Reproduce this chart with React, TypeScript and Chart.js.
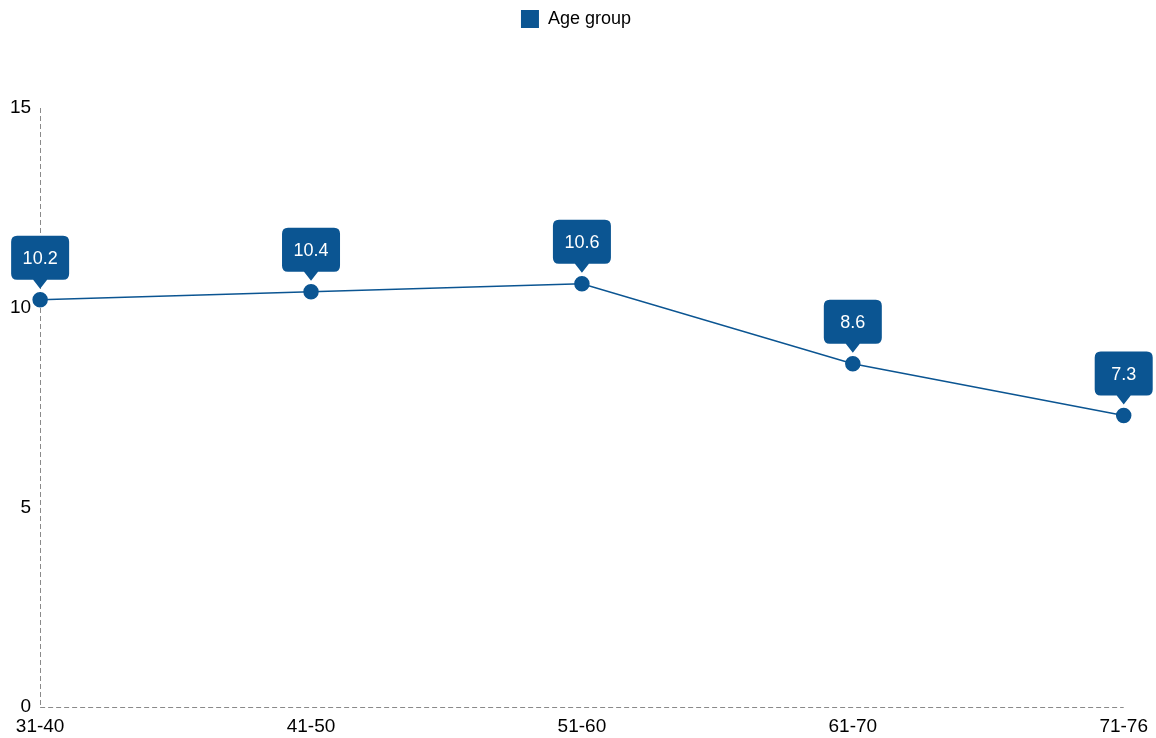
import React, { useEffect, useRef } from "react";
import { Chart, registerables } from "chart.js";

Chart.register(...registerables);

const categories = ["31-40", "41-50", "51-60", "61-70", "71-76"];
const values = [10.2, 10.4, 10.6, 8.6, 7.3];
const seriesName = "Age group";
const yTicks = [0, 5, 10, 15];

const BLUE = "#0b5592";
const FONT = "'Liberation Sans', Arial, sans-serif";

const calloutPlugin = {
  id: "callouts",
  afterDatasetsDraw(chart: any) {
    const ctx = chart.ctx;
    const meta = chart.getDatasetMeta(0);
    ctx.save();
    ctx.font = `18px ${FONT}`;
    meta.data.forEach((pt: any, i: number) => {
      const txt = String(values[i]);
      const x = pt.x;
      const y = pt.y;
      const w = Math.max(58, ctx.measureText(txt).width + 22);
      const h = 44;
      const bottom = y - 20;
      const top = bottom - h;
      const left = x - w / 2;
      const r = 6;
      ctx.fillStyle = BLUE;
      ctx.beginPath();
      ctx.moveTo(left + r, top);
      ctx.lineTo(left + w - r, top);
      ctx.quadraticCurveTo(left + w, top, left + w, top + r);
      ctx.lineTo(left + w, bottom - r);
      ctx.quadraticCurveTo(left + w, bottom, left + w - r, bottom);
      ctx.lineTo(x + 7, bottom);
      ctx.lineTo(x, y - 11);
      ctx.lineTo(x - 7, bottom);
      ctx.lineTo(left + r, bottom);
      ctx.quadraticCurveTo(left, bottom, left, bottom - r);
      ctx.lineTo(left, top + r);
      ctx.quadraticCurveTo(left, top, left + r, top);
      ctx.closePath();
      ctx.fill();
      ctx.fillStyle = "#ffffff";
      ctx.textAlign = "center";
      ctx.textBaseline = "middle";
      ctx.fillText(txt, x, top + h / 2 + 1);
    });
    ctx.restore();
  },
};

const dashedAxes = {
  id: "dashedAxes",
  beforeDatasetsDraw(chart: any) {
    const { ctx, chartArea } = chart;
    const { left, right, top, bottom } = chartArea;
    ctx.save();
    ctx.strokeStyle = "#8a8a8a";
    ctx.lineWidth = 1;
    ctx.setLineDash([5, 3]);
    ctx.beginPath();
    ctx.moveTo(Math.round(left) + 0.5, top);
    ctx.lineTo(Math.round(left) + 0.5, bottom);
    ctx.moveTo(left, Math.round(bottom) + 0.5);
    ctx.lineTo(right, Math.round(bottom) + 0.5);
    ctx.stroke();
    ctx.restore();
  },
};

const legendSpacer = {
  id: "legendSpacer",
  beforeInit(chart: any) {
    const lg = chart.legend;
    const origFit = lg.fit;
    lg.fit = function () {
      origFit.call(lg);
      this.height += 70;
    };
    const origDraw = lg.draw;
    lg.draw = function () {
      const c = lg.ctx;
      c.save();
      c.translate(8, 0);
      origDraw.call(lg);
      c.restore();
    };
  },
};

export default function App() {
  const ref = useRef<HTMLCanvasElement>(null);
  useEffect(() => {
    if (!ref.current) return;
    const chart = new Chart(ref.current, {
      type: "line",
      data: {
        labels: categories,
        datasets: [
          {
            label: seriesName,
            data: values,
            borderColor: BLUE,
            backgroundColor: BLUE,
            borderWidth: 1.5,
            pointRadius: 7,
            pointBackgroundColor: BLUE,
            pointBorderColor: BLUE,
            tension: 0,
          },
        ],
      },
      options: {
        responsive: false,
        animation: false,
        layout: { padding: { left: 1, right: 21, top: 0, bottom: -8 } },
        plugins: {
          legend: {
            display: true,
            position: "top",
            labels: {
              boxWidth: 18,
              boxHeight: 18,
              padding: 10,
              color: "#000",
              font: { family: FONT, size: 18 },
              generateLabels: () => [
                {
                  text: seriesName,
                  fillStyle: BLUE,
                  strokeStyle: BLUE,
                  lineWidth: 0,
                  datasetIndex: 0,
                  hidden: false,
                } as any,
              ],
            },
          },
          tooltip: { enabled: false },
        },
        scales: {
          x: {
            offset: false,
            grid: { display: false, drawTicks: false, tickLength: 0 },
            border: { display: false },
            ticks: { color: "#000", font: { family: FONT, size: 19 }, padding: 8, maxRotation: 0 },
          },
          y: {
            min: 0,
            max: 15,
            afterBuildTicks: (axis: any) => {
              axis.ticks = yTicks.map((v) => ({ value: v }));
            },
            grid: { display: false, drawTicks: false, tickLength: 0 },
            border: { display: false },
            ticks: { color: "#000", font: { family: FONT, size: 19 }, padding: 9 },
          },
        },
      },
      plugins: [dashedAxes, calloutPlugin, legendSpacer],
    });
    return () => chart.destroy();
  }, []);
  return (
    <canvas
      ref={ref}
      width={1156}
      height={738}
      style={{ display: "block", position: "absolute", left: 0, top: 0 }}
    />
  );
}
